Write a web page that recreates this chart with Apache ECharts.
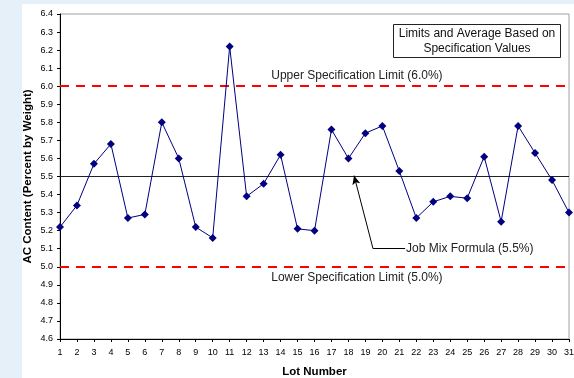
<!DOCTYPE html>
<html><head><meta charset="utf-8">
<script src="https://cdn.jsdelivr.net/npm/echarts@6/dist/echarts.min.js"></script>
<style>html,body{margin:0;padding:0;background:#e6f0f8;}#c{width:574px;height:378px;}</style>
</head><body><div id="c"></div>
<script>
const lots = [1,2,3,4,5,6,7,8,9,10,11,12,13,14,15,16,17,18,19,20,21,22,23,24,25,26,27,28,29,30,31];
const acContent = [5.22,5.34,5.57,5.68,5.27,5.29,5.80,5.60,5.22,5.16,6.22,5.39,5.46,5.62,5.21,5.20,5.76,5.60,5.74,5.78,5.53,5.27,5.36,5.39,5.38,5.61,5.25,5.78,5.63,5.48,5.30];
const upperSpec = 6.0;
const lowerSpec = 5.0;
const jobMix = 5.5;
const upperLabel = 'Upper Specification Limit (6.0%)';
const lowerLabel = 'Lower Specification Limit (5.0%)';
const jmfLabel = 'Job Mix Formula (5.5%)';
const boxLines = ['Limits and Average Based on', 'Specification Values'];

const chart = echarts.init(document.getElementById('c'));
const font = 'Liberation Sans, Arial, sans-serif';
chart.setOption({
  animation: false,
  backgroundColor: 'transparent',
  graphic: [{type:'rect', shape:{x:22,y:4,width:560,height:380}, style:{fill:'#fff'}, z:-10}],
  grid: {left:60, top:14, right:5, bottom:39, show:true, borderColor:'#a0a0a0', borderWidth:1, backgroundColor:'#fff', outerBoundsMode:'none', containLabel:false},
  xAxis: {
    type:'value', min:1, max:31, interval:1,
    name:'Lot Number', nameLocation:'middle', nameGap:27, nameMoveOverlap:false,
    nameTextStyle:{fontFamily:font, fontWeight:'bold', fontSize:11.5, color:'#000'},
    axisLine:{lineStyle:{color:'#000', width:1}},
    axisTick:{show:true, length:3, lineStyle:{color:'#000'}},
    axisLabel:{fontFamily:font, fontSize:9, color:'#000', margin:9},
    splitLine:{show:false}
  },
  yAxis: {
    type:'value', min:4.6, max:6.4, interval:0.1,
    name:'AC Content (Percent by Weight)', nameLocation:'middle', nameGap:26, nameMoveOverlap:false,
    nameTextStyle:{fontFamily:font, fontWeight:'bold', fontSize:11.5, color:'#000'},
    axisLine:{show:true, lineStyle:{color:'#000', width:1}},
    axisTick:{show:true, length:3, lineStyle:{color:'#000'}},
    axisLabel:{fontFamily:font, fontSize:9, color:'#000', margin:7, formatter:v=>v.toFixed(1)},
    splitLine:{show:false}
  },
  series: [
    {
      type:'line', data: lots.map((l,i)=>[l, acContent[i]]),
      lineStyle:{color:'#000080', width:1},
      itemStyle:{color:'#000080'},
      symbol:'diamond', symbolSize:8, z:5,
      markLine:{
        silent:true, symbol:'none', animation:false,
        label:{show:false},
        data:[
          {yAxis:upperSpec, lineStyle:{color:'#ff0000', type:[9,7], width:2}},
          {yAxis:lowerSpec, lineStyle:{color:'#ff0000', type:[9,7], width:2}},
          {yAxis:jobMix, lineStyle:{color:'#222', type:'solid', width:1}}
        ]
      }
    },
    {
      type:'line', data:[], z:6,
      markLine:{
        silent:true, animation:false,
        data:[
          [{coord:[18.33,5.505], symbol:'arrow', symbolSize:[6,9], lineStyle:{color:'#000',width:1,type:'solid'}, label:{show:false}},
           {coord:[19.45,5.1], symbol:'none'}],
          [{coord:[19.45,5.1], symbol:'none', lineStyle:{color:'#000',width:1,type:'solid'}},
           {coord:[21.34,5.1], symbol:'none', label:{show:true, position:'end', distance:1, formatter:jmfLabel, fontFamily:font, fontSize:12, color:'#222'}}]
        ]
      }
    }
  ]
});

function addText(){
  const up = chart.convertToPixel({gridIndex:0}, [18.5, 6.06]);
  const lo = chart.convertToPixel({gridIndex:0}, [18.5, 4.94]);
  chart.setOption({graphic:[
    {type:'rect', shape:{x:22,y:4,width:560,height:380}, style:{fill:'#fff'}, z:-10},
    {type:'text', x:up[0], y:up[1], z:20, style:{text:upperLabel, fontFamily:font, fontSize:12, fill:'#222', align:'center', verticalAlign:'middle'}},
    {type:'text', x:lo[0], y:lo[1], z:20, style:{text:lowerLabel, fontFamily:font, fontSize:12, fill:'#222', align:'center', verticalAlign:'middle'}},
    {type:'rect', z:20, shape:{x:393.5,y:24.5,width:167,height:33}, style:{fill:'#fff', stroke:'#222', lineWidth:1}},
    {type:'text', z:21, x:477, y:33.5, style:{text:boxLines[0], fontFamily:font, fontSize:12, fill:'#111', align:'center', verticalAlign:'middle'}},
    {type:'text', z:21, x:477, y:49, style:{text:boxLines[1], fontFamily:font, fontSize:12, fill:'#111', align:'center', verticalAlign:'middle'}}
  ]}, {replaceMerge:['graphic']});
}
addText();
</script></body></html>
